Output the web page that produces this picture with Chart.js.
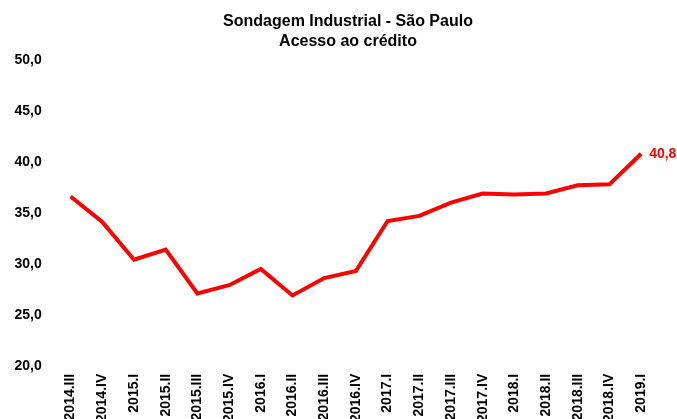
<!DOCTYPE html>
<html>
<head>
<meta charset="utf-8">
<script src="https://cdn.jsdelivr.net/npm/chart.js@4"></script>
<style>
  html, body { margin: 0; padding: 0; background: #fff; overflow: hidden; }
  #wrap { width: 677px; height: 430px; }
</style>
</head>
<body>
<div id="wrap"><canvas id="chart"></canvas></div>
<script>
const quarters = ['2014.III', '2014.IV', '2015.I', '2015.II', '2015.III', '2015.IV',
  '2016.I', '2016.II', '2016.III', '2016.IV', '2017.I', '2017.II', '2017.III', '2017.IV',
  '2018.I', '2018.II', '2018.III', '2018.IV', '2019.I'];
const acessoCredito = [36.6, 34.1, 30.4, 31.4, 27.1, 27.9, 29.5, 26.9, 28.6, 29.3,
  34.2, 34.7, 36.0, 36.9, 36.8, 36.9, 37.7, 37.8, 40.8];
const titleLines = ['Sondagem Industrial - São Paulo', 'Acesso ao crédito'];

const FONT = 'Arial, "Liberation Sans", sans-serif';
const fmt = v => v.toFixed(1).replace('.', ',');

// título (centrado um pouco à direita, como no original) e rótulo do último ponto
const extras = {
  id: 'extras',
  afterDraw(chart) {
    const ctx = chart.ctx;
    ctx.save();
    ctx.font = 'bold 16px ' + FONT;
    ctx.fillStyle = '#000';
    ctx.textAlign = 'center';
    ctx.textBaseline = 'middle';
    titleLines.forEach((t, i) => ctx.fillText(t, 348, 22 + i * 19.5));

    const meta = chart.getDatasetMeta(0);
    const i = meta.data.length - 1;
    const pt = meta.data[i];
    ctx.font = 'bold 14px ' + FONT;
    ctx.fillStyle = '#ff0000';
    ctx.textAlign = 'left';
    ctx.fillText(fmt(acessoCredito[i]), pt.x + 8, pt.y);
    ctx.restore();
  }
};

new Chart(document.getElementById('chart'), {
  type: 'line',
  data: {
    labels: quarters,
    datasets: [{
      data: acessoCredito,
      borderColor: '#ff0000',
      borderWidth: 4,
      pointRadius: 0,
      tension: 0
    }]
  },
  options: {
    responsive: true,
    maintainAspectRatio: false,
    animation: false,
    layout: { padding: { left: 1.5, right: 20, top: 60, bottom: 0 } },
    plugins: {
      legend: { display: false },
      tooltip: { enabled: false },
      title: { display: false }
    },
    scales: {
      x: {
        offset: true,
        grid: { display: false, drawTicks: false },
        border: { display: false },
        ticks: {
          color: '#000',
          font: { family: FONT, size: 14, weight: 'bold' },
          minRotation: 90,
          maxRotation: 90,
          autoSkip: false,
          padding: 8
        }
      },
      y: {
        min: 20,
        max: 50,
        grid: { display: false, drawTicks: false },
        border: { display: false },
        ticks: {
          stepSize: 5,
          color: '#000',
          font: { family: FONT, size: 14, weight: 'bold' },
          padding: 13,
          callback: v => fmt(v)
        }
      }
    }
  },
  plugins: [extras]
});
</script>
</body>
</html>
